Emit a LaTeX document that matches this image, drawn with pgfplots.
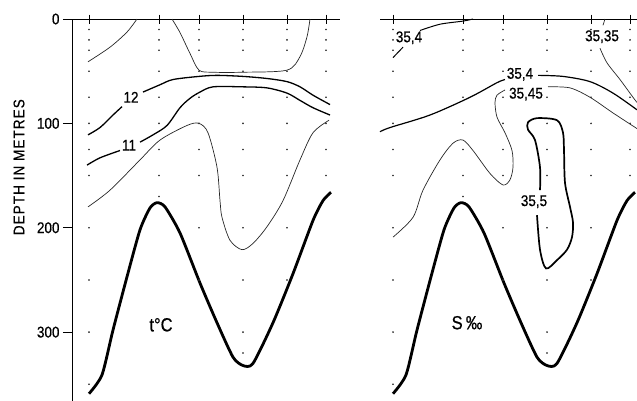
\documentclass[border=0pt]{standalone}
\usepackage{pgfplots}
\pgfplotsset{compat=1.18}
\usepackage{pgfplotstable}
\usepackage{fontspec}
\setmainfont{Liberation Sans}[FakeStretch=0.87, FakeBold=0.6]

% bottom profile (x = horizontal position, y = depth in m)
\pgfplotstableread{
x d
89 359
102 341
113 298
127 247
140 202
150 181
157 176
165 180
180 205
200 253
217 291
233 324
243 332
253 330
273 291
293 244
313 193
323 174
331 166
}\bottomtab

% sampling depths at stations
\pgfplotstableread{
x d
89 10
89 20
89 30
89 50
89 75
89 100
89 125
89 150
89 200
89 250
89 300
89 350
159 10
159 20
159 30
159 50
159 75
159 100
159 125
159 150
159 170
199 10
199 20
199 30
199 50
199 75
199 100
199 125
199 150
199 200
199 250
243 10
243 20
243 30
243 50
243 75
243 100
243 125
243 150
243 200
243 250
243 300
243 320
287 10
287 20
287 30
287 50
287 75
287 100
287 125
287 150
287 200
287 250
326 10
326 20
326 30
326 50
326 75
326 100
326 125
326 150
}\dotstab

\pgfplotsset{
  panel/.style={
    scale only axis, height=382pt,
    ymin=0, ymax=366, y dir=reverse, clip=false,
    axis x line*=bottom,
    xtick pos=right,
    tick align=center, major tick length=9pt,
    xtick={89,159,199,243,287,326}, xticklabels={},
    ytick style={xshift=-4.5pt},
    every tick/.style={black, line width=0.8pt},
    /pgf/number format/assume math mode=true,
    tick label style={font=\fontsize{15.5}{18}\selectfont},
    label style={font=\fontsize{15.5}{18}\selectfont},
  },
  thin/.style={line width=0.7pt, black!85, smooth, tension=0.5},
  mid/.style={line width=1.3pt, black, smooth, tension=0.5},
  bottom/.style={line width=2.8pt, black, smooth, tension=0.4},
  dots/.style={only marks, mark=*, mark size=0.6pt, black!80},
}

\begin{document}
\begin{tikzpicture}[font=\fontsize{15.5}{18}\selectfont]
\path[use as bounding box] (0pt,0pt) rectangle (637pt,-401pt);

% ---------------- temperature ----------------
\begin{axis}[panel,
  at={(72pt,-19pt)}, anchor=north west,
  width=268pt, xmin=72, xmax=340,
  axis y line*=left,
  ytick pos=left,
  axis line style={-, line width=0.8pt},
  ytick={0,100,200,300},
  yticklabel style={xshift=-4.5pt},
  ylabel={\addfontfeature{LetterSpace=7}DEPTH IN METRES},
  ylabel style={at={(axis cs:19,142)}, anchor=center},
]
\addplot[dots] table[x=x,y=d] {\dotstab};
\addplot[bottom] table[x=x,y=d] {\bottomtab};
% upper-left thin
\addplot[thin] coordinates {(88,41) (110,27) (127,12.5) (137,0)};
% U-shaped thin
\addplot[thin] coordinates {(172,0) (180,13) (190,33) (199,49) (213,51) (243,51) (287,49) (300,36) (307,17) (310,0)};
% 12
\addplot[mid] coordinates {(88,111) (100,104) (113,92) (122,84)};
\addplot[mid] coordinates {(143,70) (160,63) (173,58) (199,55) (217,54) (243,55) (267,57) (287,60) (300,65) (313,73) (330,82)};
% 11
\addplot[mid] coordinates {(87,140) (100,133) (120,126)};
\addplot[mid] coordinates {(140,118) (153,111) (167,102) (180,85) (190,76) (200,70) (213,65) (243,65) (267,66) (287,71) (300,78) (313,85) (330,92)};
% 10
\addplot[thin] coordinates {(88,180) (110,164) (140,135) (160,116) (187,102) (199,100) (208,109) (217,142) (220,174) (222,190) (230,212) (242,221) (253,215) (267,199) (283,174) (300,135) (313,109) (329,97)};
\node at (axis cs:131,75) {12};
\node at (axis cs:129,121) {11};
\node[font=\fontsize{19}{22}\selectfont] at (axis cs:161,293) {t°C};
\end{axis}

% ---------------- salinity ----------------
\begin{axis}[panel,
  at={(380pt,-19pt)}, anchor=north west,
  width=257pt, xmin=76, xmax=333,
  axis y line=none,
  axis line style={-, line width=0.8pt},
  ytick=\empty,
]
\addplot[dots] table[x=x,y=d] {\dotstab};
\addplot[bottom] table[x=x,y=d] {\bottomtab};
% 35,4 upper
\addplot[line width=1pt, black] coordinates {(89,37) (99,27)};
\addplot[line width=1pt, black, smooth, tension=0.5] coordinates {(116,11) (136,5) (159,2) (169,0)};
% 35,35
\addplot[thin] coordinates {(301,0) (299,6)};
\addplot[thin] coordinates {(296,28) (303,42) (316,58) (329,75) (333,80)};
% 35,4 middle
\addplot[line width=1.2pt, black, smooth, tension=0.5] coordinates {(76,108) (86,104) (126,92) (166,75) (193,61) (201,58)};
\addplot[line width=1.2pt, black, smooth, tension=0.5] coordinates {(234,54) (259,55) (286,60) (309,71) (333,87)};
% 35,45
\addplot[thin] coordinates {(201,68) (193,73) (191,80) (193,94) (201,109) (208,126) (209,142) (206,154) (199,159) (186,148) (169,126) (159,116) (149,119) (136,135) (119,164) (109,190) (89,209)};
\addplot[thin] coordinates {(244,65) (266,66) (286,75) (309,90) (333,105)};
% 35,5
\addplot[line width=1.7pt, black, smooth, tension=0.5] coordinates {(236,164) (236,142) (231,116) (224,106) (224,99) (233,95) (253,97) (259,109) (260,126) (261,157) (266,180) (269,195) (268,209) (263,221) (253,231) (242,239) (236,221) (233,188)};
\node at (axis cs:105,18) {35,4};
\node at (axis cs:298,17) {35,35};
\node at (axis cs:216,53) {35,4};
\node at (axis cs:222,72) {35,45};
\node at (axis cs:230,175) {35,5};
\node[font=\fontsize{19}{22}\selectfont] at (axis cs:163,291) {S\,‰};
\end{axis}
\end{tikzpicture}
\end{document}
